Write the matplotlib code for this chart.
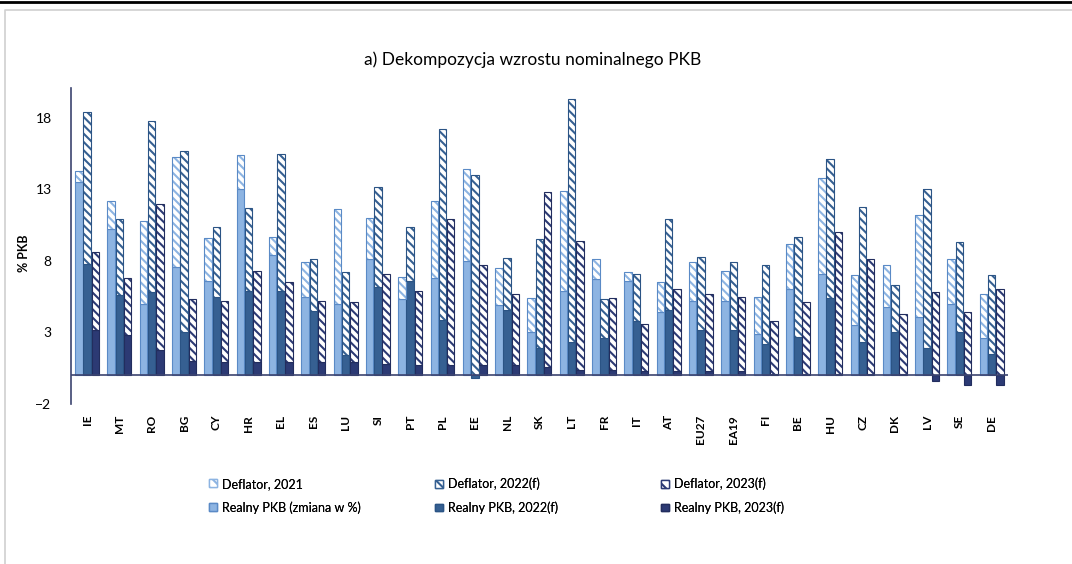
import numpy as np
import matplotlib.pyplot as plt
from matplotlib.lines import Line2D
from matplotlib.patches import Patch

plt.rcParams['font.family'] = ['Lato', 'DejaVu Sans']
plt.rcParams['hatch.linewidth'] = 1.5

countries = ['IE', 'MT', 'RO', 'BG', 'CY', 'HR', 'EL', 'ES', 'LU', 'SI', 'PT', 'PL', 'EE', 'NL',
             'SK', 'LT', 'FR', 'IT', 'AT', 'EU27', 'EA19', 'FI', 'BE', 'HU', 'CZ', 'DK', 'LV', 'SE', 'DE']

# real GDP growth, %
real_2021 = [13.5, 10.2, 5.0, 7.6, 6.6, 13.0, 8.4, 5.5, 5.0, 8.1, 5.3, 6.8, 8.0, 4.9,
             3.0, 5.9, 6.7, 6.6, 4.4, 5.2, 5.2, 2.9, 6.0, 7.1, 3.5, 4.8, 4.1, 5.0, 2.6]
real_2022 = [7.8, 5.6, 5.8, 3.0, 5.5, 5.9, 5.9, 4.5, 1.4, 6.2, 6.6, 3.9, -0.2, 4.6,
             1.9, 2.3, 2.6, 3.8, 4.6, 3.2, 3.2, 2.2, 2.7, 5.4, 2.3, 3.0, 1.9, 3.0, 1.5]
real_2023 = [3.2, 2.8, 1.8, 1.0, 0.9, 0.9, 0.9, 0.9, 0.9, 0.8, 0.7, 0.7, 0.7, 0.7,
             0.6, 0.4, 0.4, 0.3, 0.3, 0.3, 0.3, 0.1, 0.1, 0.1, 0.1, 0.1, -0.4, -0.7, -0.7]

# GDP deflator, %
defl_2021 = [0.8, 2.0, 5.8, 7.7, 3.0, 2.4, 1.3, 2.4, 6.6, 2.9, 1.6, 5.4, 6.4, 2.6,
             2.4, 7.0, 1.4, 0.6, 2.1, 2.7, 2.1, 2.6, 3.2, 6.7, 3.5, 2.9, 7.1, 3.1, 3.1]
defl_2022 = [10.6, 5.3, 12.0, 12.7, 4.9, 5.8, 9.6, 3.6, 5.8, 7.0, 3.8, 13.3, 14.0, 3.6,
             7.6, 17.0, 2.7, 3.3, 6.3, 5.1, 4.7, 5.5, 7.0, 9.7, 9.5, 3.3, 11.1, 6.3, 5.5]
defl_2023 = [5.4, 4.0, 10.2, 4.3, 4.3, 6.4, 5.6, 4.3, 4.2, 6.3, 5.2, 10.2, 7.0, 5.0,
             12.2, 9.0, 5.0, 3.3, 5.7, 5.4, 5.2, 3.7, 5.0, 9.9, 8.0, 4.2, 5.8, 4.4, 6.0]

defl_labels = ['Deflator, 2021', 'Deflator, 2022(f)', 'Deflator, 2023(f)']
real_labels = ['Realny PKB (zmiana w %)', 'Realny PKB, 2022(f)', 'Realny PKB, 2023(f)']

fill_cols = ['#8db4e2', '#366092', '#2c3a74']
edge_cols = ['#5a8ac6', '#2b5485', '#222d5e']

fig = plt.figure(figsize=(10.72, 5.64), dpi=100)
ax = fig.add_axes([0.0662, 0.284, 0.874, 0.560])

x = np.arange(len(countries))
width = 0.23
offsets = [-0.255, 0.0, 0.255]
series = [(real_2021, defl_2021), (real_2022, defl_2022), (real_2023, defl_2023)]

for (real, defl), off, fc, ec in zip(series, offsets, fill_cols, edge_cols):
    real = np.array(real)
    defl = np.array(defl)
    base = np.clip(real, 0, None)
    ax.bar(x + off, real, width, color=fc, edgecolor=ec, linewidth=0.8, zorder=2)
    # hatched deflator part: white fill, coloured diagonal stripes
    ax.bar(x + off, defl, width, bottom=base, color='white', edgecolor=fc,
           hatch='\\\\\\\\', linewidth=0, zorder=2)
    ax.bar(x + off, defl, width, bottom=base, fill=False, edgecolor=ec,
           linewidth=0.8, zorder=3)

ax.set_xlim(-0.5, len(countries) - 0.5)
ax.set_ylim(-2, 20.1)
ax.set_yticks([-2, 3, 8, 13, 18])
ax.set_xticks(x)
ax.set_xticklabels(countries, rotation=90, fontsize=8.5, fontweight='bold')
ax.tick_params(axis='both', length=0)
ax.tick_params(axis='y', labelsize=10, pad=14)
ax.tick_params(axis='x', pad=8)
ax.axhline(0, color='#3c4470', linewidth=1.2, zorder=4)
for s in ['top', 'right', 'bottom']:
    ax.spines[s].set_visible(False)
ax.spines['left'].set_color('#3c4470')
ax.spines['left'].set_linewidth(1.2)
ax.set_ylabel('% PKB', fontsize=9, fontweight='bold')
ax.yaxis.set_label_coords(-0.044, 0.478)

fig.text(0.497, 0.894, 'a) Dekompozycja wzrostu nominalnego PKB', ha='center', va='center',
         fontsize=12.5)

# legend: three columns, each a separate legend so they sit where the original ones do
col_x = [198 / 1072, 424 / 1072, 650 / 1072]
for i in range(3):
    handles = [Patch(facecolor='white', edgecolor=fill_cols[i], hatch='\\\\\\'),
               Patch(facecolor=fill_cols[i], edgecolor=edge_cols[i])]
    leg = fig.legend(handles, [defl_labels[i], real_labels[i]], loc='center left',
                     bbox_to_anchor=(col_x[i], 0.121), frameon=False, fontsize=9,
                     handlelength=0.6, handleheight=0.6, handletextpad=0.4,
                     labelspacing=0.9)
    fig.add_artist(leg)

# outer frame
fig.add_artist(Line2D([0, 1], [0.997, 0.997], color='black', linewidth=2))
fig.add_artist(Line2D([0.005, 0.005, 1], [0, 0.982, 0.982], color='#d0d0d0', linewidth=1.2))

fig.savefig('out.png', dpi=100)
